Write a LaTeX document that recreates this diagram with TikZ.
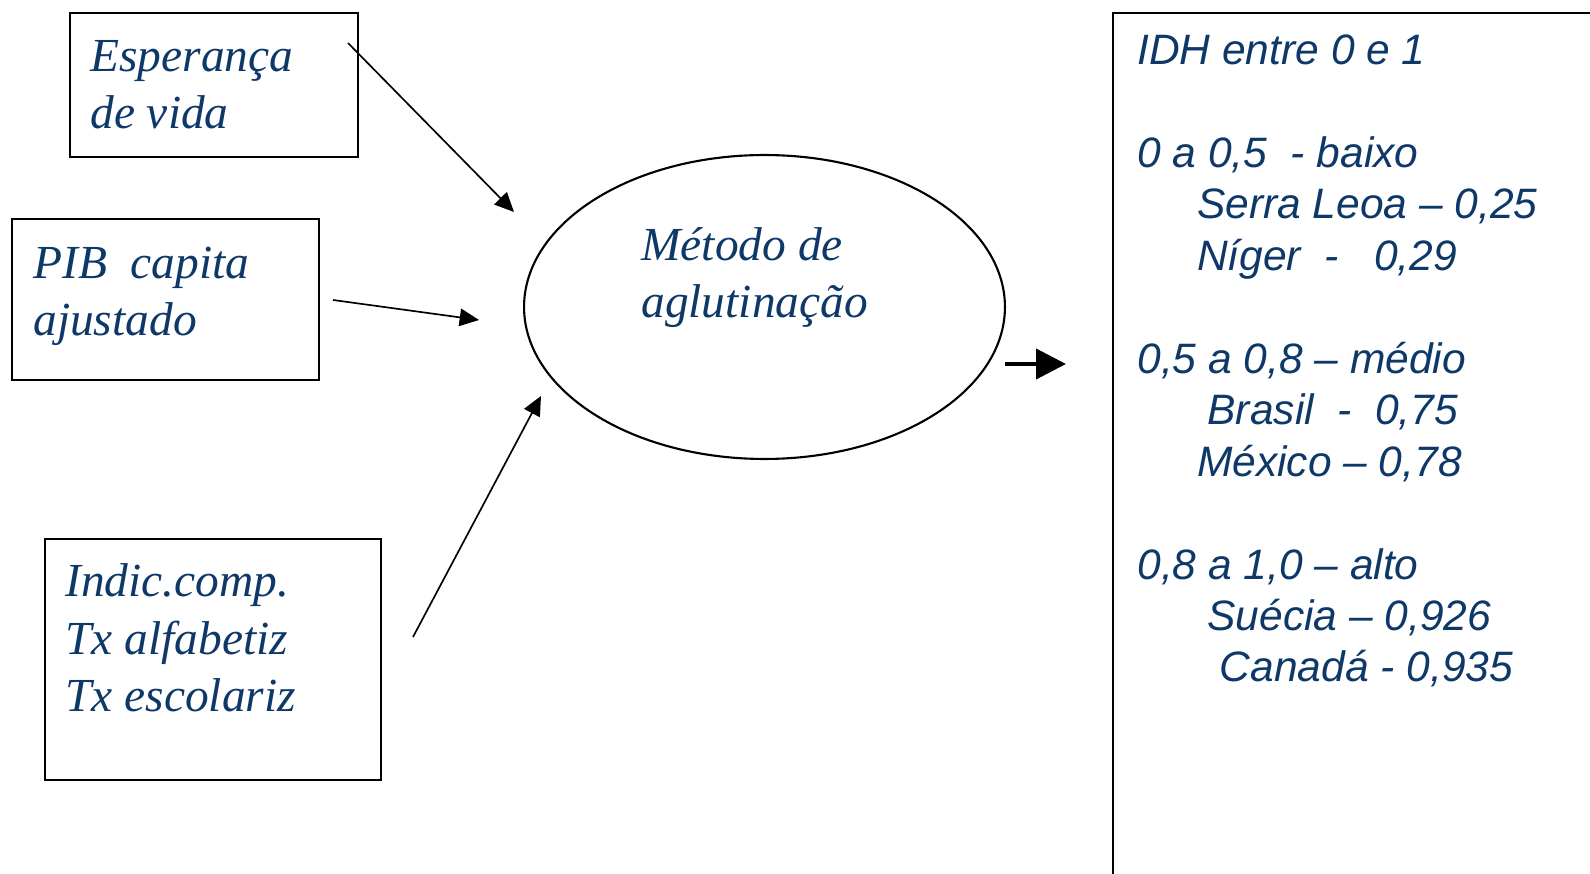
\documentclass[tikz,border=0pt]{standalone}
\usepackage{fontspec}
\setmainfont{Liberation Serif}
\newfontfamily\arialit{Liberation Sans}
\usetikzlibrary{arrows.meta,positioning,shapes.geometric}
\definecolor{azulidh}{HTML}{0D3868}

\tikzset{
	caixa/.style={draw=black, line width=1.2pt, inner sep=0pt},
	rotulo/.style={inner sep=0pt, anchor=base west, align=left, text=azulidh,
		font=\fontsize{27}{33}\selectfont\itshape},
	lista/.style={inner sep=0pt, anchor=base west, align=left, text=azulidh,
		font=\arialit\fontsize{24.2}{29.3}\selectfont\itshape},
	seta/.style={-{Triangle[length=11pt,width=10pt]}, line width=0.95pt},
	setagrossa/.style={-{Triangle[length=17pt,width=17pt]}, line width=2.3pt}
}

\begin{document}
\begin{tikzpicture}[x=0.02cm, y=-0.02cm]
			%%%%% START %%%%%
			\clip (0, 0) rectangle (1590, 874);
			
			% caixas da esquerda
			\node[caixa, minimum width=5.76cm, minimum height=2.88cm] (esperanca) at (214, 85) {};
			\node[caixa, minimum width=6.14cm, minimum height=3.22cm] (pib) at (165.5, 299.5) {};
			\node[caixa, minimum width=6.72cm, minimum height=4.82cm] (indic) at (213, 659.5) {};
			
			% (a ancora base fica na ultima linha)
			\node[rotulo] (tesperanca) at (90, 129) {Esperança\\de vida};
			\node[rotulo] (tpib) at (33, 336) {PIB\ \ capita\\ajustado};
			\node[rotulo] (tindic) at (65, 712) {Indic.comp.\\Tx alfabetiz\\Tx escolariz};
			
			% elipse
			\node[draw, line width=1.2pt, ellipse, inner sep=0pt, minimum width=9.62cm, minimum height=6.08cm] (metodo) at (764.5, 307) {};
			\node[rotulo] (tmetodo) at (641, 318) {Método de\\aglutinação};
			
			% setas
			\coordinate (s1a) at (348, 43);
			\coordinate (s1b) at (514, 212);
			\coordinate (s2a) at (333, 300);
			\coordinate (s2b) at (479, 320);
			\coordinate (s3a) at (413, 637);
			\coordinate (s3b) at (541, 396);
			\coordinate (s4a) at (1005, 364);
			\coordinate (s4b) at (1066, 364);
			\draw[seta] (s1a) -- (s1b);
			\draw[seta] (s2a) -- (s2b);
			\draw[seta] (s3a) -- (s3b);
			\draw[setagrossa] (s4a) -- (s4b);
			
			% caixa da direita (aberta em baixo)
			\draw[line width=1.3pt] (1600, 13) -- (1113, 13) -- (1113, 890);
			\node[lista] (idh) at (1137, 682) {IDH entre 0 e 1\\[29.3pt]
				0 a 0,5\ \ - baixo\\
				\hspace*{34pt}Serra Leoa – 0,25\\
				\hspace*{34pt}Níger\ \ -\ \ \ 0,29\\[29.3pt]
				0,5 a 0,8 – médio\\
				\hspace*{40pt}Brasil\ \ -\ \ 0,75\\
				\hspace*{34pt}México – 0,78\\[29.3pt]
				0,8 a 1,0 – alto\\
				\hspace*{40pt}Suécia – 0,926\\
				\hspace*{47pt}Canadá - 0,935};
			%%%%% END %%%%%
\end{tikzpicture}
\end{document}
